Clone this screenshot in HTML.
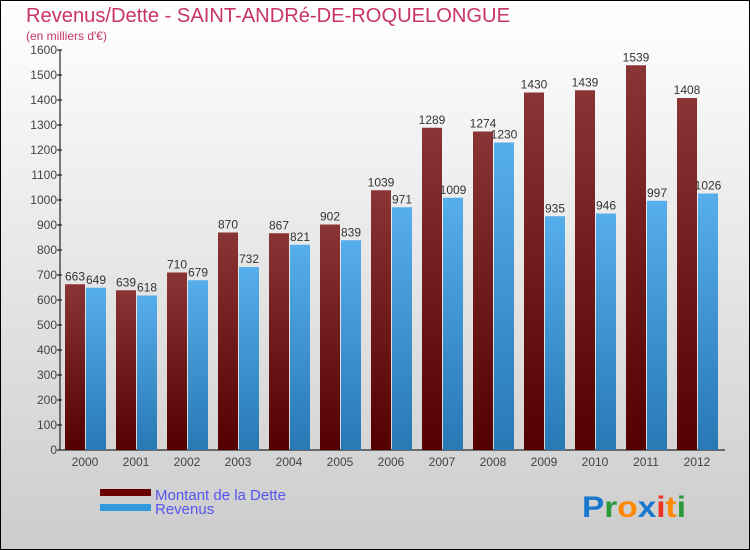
<!DOCTYPE html>
<html><head><meta charset="utf-8"><style>
body{margin:0}
#c{width:750px;height:550px;position:relative;overflow:hidden}
text{font-family:"Liberation Sans",sans-serif}
</style></head><body>
<div id="c">
<svg id="s" width="750" height="550" xmlns="http://www.w3.org/2000/svg">
<defs>
<linearGradient id="bg" x1="0" y1="0" x2="0" y2="1"><stop offset="0" stop-color="#ffffff"/><stop offset="1" stop-color="#cccccc"/></linearGradient>
<linearGradient id="gd" x1="0" y1="0" x2="0" y2="1"><stop offset="0" stop-color="#8a3535"/><stop offset="1" stop-color="#520000"/></linearGradient>
<linearGradient id="gr" x1="0" y1="0" x2="0" y2="1"><stop offset="0" stop-color="#56aeea"/><stop offset="1" stop-color="#2878b4"/></linearGradient>
</defs>
<rect x="0.5" y="0.5" width="749" height="549" fill="url(#bg)" stroke="#000"/>
<text x="26" y="22" font-size="20" fill="#c8336a" textLength="484" lengthAdjust="spacingAndGlyphs">Revenus/Dette - SAINT-ANDRé-DE-ROQUELONGUE</text>
<text x="26" y="40" font-size="12" fill="#c8336a">(en milliers d'€)</text>
<g id="ax"></g>
<g id="bars"></g>
<rect x="100" y="489" width="51" height="7" fill="#6a0000"/>
<rect x="100" y="504" width="51" height="7" fill="#3399dd"/>
<text x="155" y="500" font-size="15" fill="#5555ee">Montant de la Dette</text>
<text x="155" y="514" font-size="15" fill="#5555ee">Revenus</text>
<text x="582" y="517" font-size="30" font-weight="bold" textLength="104" lengthAdjust="spacingAndGlyphs"><tspan fill="#1a77d0">P</tspan><tspan fill="#2a9a3a">r</tspan><tspan fill="#ff8800">o</tspan><tspan fill="#1a77d0">x</tspan><tspan fill="#ee3322">i</tspan><tspan fill="#ff8800">t</tspan><tspan fill="#2a9a3a">i</tspan></text>
</svg></div>
<script>
const years=["2000","2001","2002","2003","2004","2005","2006","2007","2008","2009","2010","2011","2012"];
const debt=[663,639,710,870,867,902,1039,1289,1274,1430,1439,1539,1408];
const revenue=[649,618,679,732,821,839,971,1009,1230,935,946,997,1026];
const yTicks=[0,100,200,300,400,500,600,700,800,900,1000,1100,1200,1300,1400,1500,1600];
const NS="http://www.w3.org/2000/svg";
const y=v=>450-v*0.25, x0=i=>65+i*51;
function mk(t,a,p){const e=document.createElementNS(NS,t);for(const k in a)e.setAttribute(k,a[k]);p.appendChild(e);return e;}
const ax=document.getElementById('ax'),bars=document.getElementById('bars');
let l=mk('line',{x1:60,y1:50,x2:60,y2:450,stroke:'#000'},ax);


l=mk('line',{x1:60,y1:450,x2:725,y2:450,stroke:'#000'},ax);


yTicks.forEach(v=>{
 mk('line',{x1:57,y1:y(v),x2:62,y2:y(v),stroke:'#000'},ax);
 const t=mk('text',{x:57,y:y(v)+4,'font-size':12,fill:'#444','text-anchor':'end'},ax);t.textContent=v;
 
 
});
years.forEach((yr,i)=>{
 const t=mk('text',{x:x0(i)+20,y:466,'font-size':12,fill:'#444','text-anchor':'middle'},ax);t.textContent=yr;
 
 
 [[debt,'url(#gd)',0,'bar-dette'],[revenue,'url(#gr)',21,'bar-revenus']].forEach(([arr,f,o,n])=>{
  const v=arr[i];
  const r=mk('rect',{x:x0(i)+o,y:y(v),width:20,height:450-y(v),fill:f},bars);
  
  
  const tl=mk('text',{x:x0(i)+o+10,y:y(v)-4,'font-size':12,fill:'#333','text-anchor':'middle'},bars);tl.textContent=v;
  
  
 });
});
</script>
</body></html>
